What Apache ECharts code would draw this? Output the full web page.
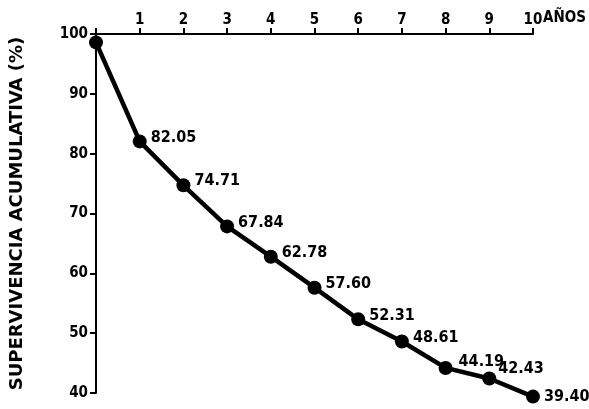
<!DOCTYPE html>
<html>
<head>
<meta charset="utf-8">
<script src="https://cdn.jsdelivr.net/npm/echarts@6/dist/echarts.min.js"></script>
<style>
html,body{margin:0;padding:0;background:#fff;}
#c{width:589px;height:409px;}
</style>
</head>
<body>
<div id="c"></div>
<script>
const years = [0, 1, 2, 3, 4, 5, 6, 7, 8, 9, 10];
const survival = [98.6, 82.05, 74.71, 67.84, 62.78, 57.60, 52.31, 48.61, 44.19, 42.43, 39.40];
const pointLabels = ['', '82.05', '74.71', '67.84', '62.78', '57.60', '52.31', '48.61', '44.19', '42.43', '39.40'];
const yTitle = 'SUPERVIVENCIA ACUMULATIVA (%)';
const xUnit = 'AÑOS';

const FONT = '"DejaVu Sans Condensed", "DejaVu Sans", sans-serif';
const TFONT = '"DejaVu Sans", sans-serif';
const chart = echarts.init(document.getElementById('c'));

const labelOffsets = {8: [2, -6], 9: [-2, -10], 10: [0, 0]};
const data = years.map((x, i) => {
  const d = {value: [x, survival[i]]};
  if (i === 0) d.label = {show: false};
  else if (labelOffsets[i]) d.label = {offset: labelOffsets[i]};
  return d;
});

chart.setOption({
  animation: false,
  backgroundColor: '#fff',
  grid: {left: 96, right: 56, top: 34, bottom: 16},
  xAxis: {
    type: 'value', position: 'top', min: 0, max: 10, interval: 1,
    axisLine: {show: true, lineStyle: {color: '#000', width: 2}},
    axisTick: {show: true, inside: false, length: 6, lineStyle: {color: '#000', width: 2}},
    splitLine: {show: false},
    axisLabel: {
      color: '#000', fontFamily: FONT, fontWeight: 'bold', fontSize: 15, margin: 6,
      formatter: v => v === 0 ? '' : String(v)
    }
  },
  yAxis: {
    type: 'value', min: 40, max: 100, interval: 10,
    name: yTitle, nameLocation: 'middle', nameGap: 70, nameRotate: 90,
    nameTextStyle: {color: '#000', fontFamily: TFONT, fontWeight: 'bold', fontSize: 18},
    axisLine: {show: true, lineStyle: {color: '#000', width: 2}},
    axisTick: {show: true, inside: false, length: 6, lineStyle: {color: '#000', width: 2}},
    splitLine: {show: false},
    axisLabel: {color: '#000', fontFamily: FONT, fontWeight: 'bold', fontSize: 15, margin: 8}
  },
  series: [{
    type: 'line',
    clip: false,
    data: data,
    symbol: 'circle', symbolSize: 14,
    itemStyle: {color: '#000'},
    lineStyle: {color: '#000', width: 4.5},
    label: {
      show: true, position: 'right', distance: 4, offset: [0, -4],
      color: '#000', fontFamily: FONT, fontWeight: 'bold', fontSize: 16,
      formatter: p => pointLabels[p.dataIndex]
    }
  }]
});

const p10 = chart.convertToPixel({gridIndex: 0}, [10, 100]);
chart.setOption({
  graphic: [{
    type: 'text', left: p10[0] + 10, top: p10[1] - 23,
    style: {text: xUnit, fill: '#000', font: 'bold 15px ' + FONT}
  }]
});
</script>
</body>
</html>
